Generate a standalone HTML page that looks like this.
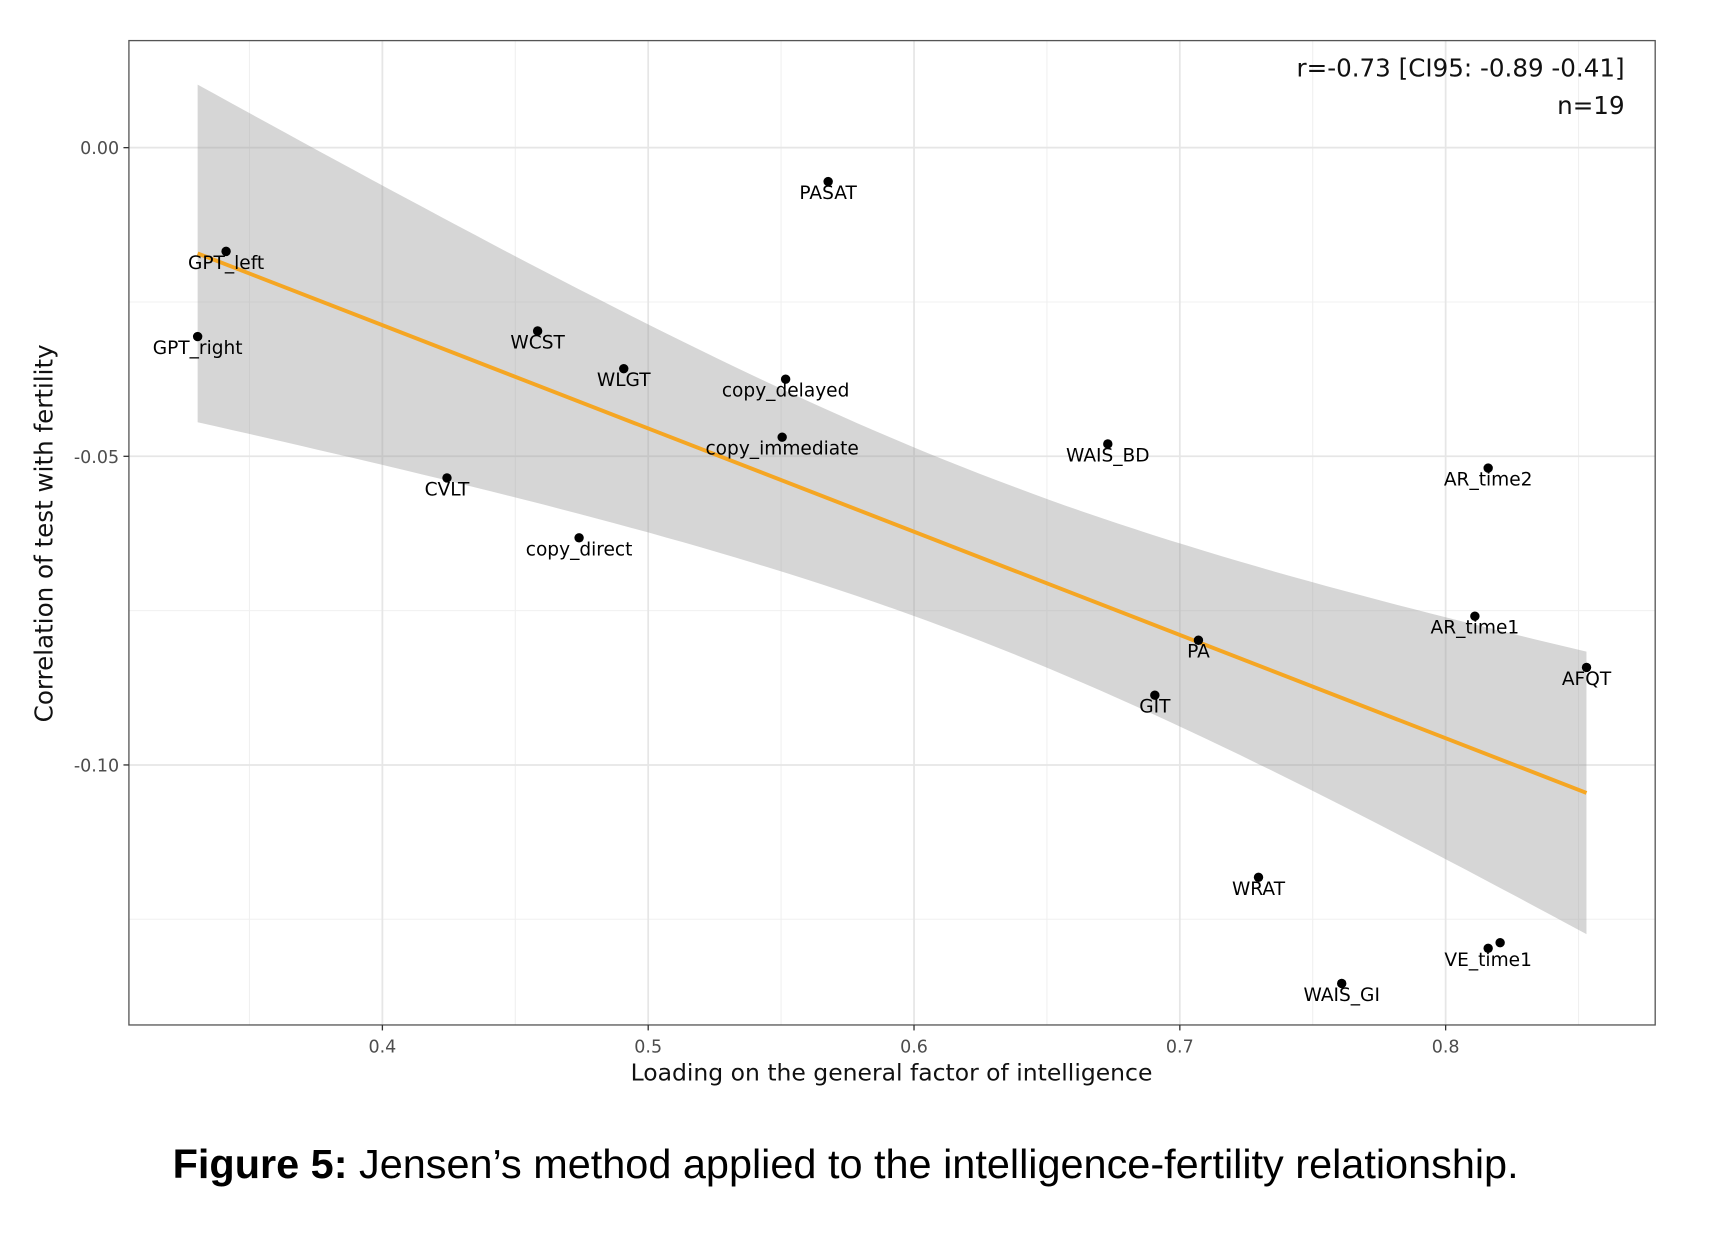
<!DOCTYPE html>
<html><head><meta charset="utf-8"><style>
html,body{margin:0;padding:0;background:#fff;}
svg{display:block;}
</style></head><body>
<svg id="chart" width="1712" height="1236" viewBox="0 0 1567 1131" xmlns="http://www.w3.org/2000/svg" font-family="'DejaVu Sans','Liberation Sans',sans-serif">
  <rect x="0" y="0" width="1567" height="1131" fill="#fff"/>
  <g id="grid"></g>
  <g id="band"></g>
  <g id="line"></g>
  <g id="points"></g>
  <g id="labels"></g>
  <rect x="118" y="37" width="1397" height="901" fill="none" stroke="#555" stroke-width="1.2"/>
  <g id="axes"></g>
  <text x="1487" y="70" text-anchor="end" font-size="22.5" fill="#111">r=-0.73 [CI95: -0.89 -0.41]</text>
  <text x="1487" y="104" text-anchor="end" font-size="22.5" fill="#111">n=19</text>
  <text x="816" y="989" text-anchor="middle" font-size="21.5" fill="#111">Loading on the general factor of intelligence</text>
  <text transform="translate(48,488) rotate(-90)" text-anchor="middle" font-size="22.5" fill="#111">Correlation of test with fertility</text>
  <text x="158" y="1078" font-family="'Liberation Sans',sans-serif" font-size="37" textLength="1232" lengthAdjust="spacingAndGlyphs" fill="#000"><tspan font-weight="bold">Figure 5:</tspan> Jensen’s method applied to the intelligence-fertility relationship.</text>
</svg>
<script>
const names = ["GPT_left","GPT_right","WCST","WLGT","copy_delayed","copy_immediate","PASAT","CVLT","copy_direct","WAIS_BD","AR_time2","AR_time1","PA","AFQT","GIT","WRAT","VE_time1","","WAIS_GI"];
const loadings = [0.3412,0.3305,0.4584,0.4908,0.5517,0.5504,0.5677,0.4243,0.474,0.6729,0.816,0.811,0.707,0.853,0.6906,0.7296,0.816,0.8205,0.7609];
const fertCorr = [-0.0168,-0.0306,-0.0297,-0.0358,-0.0375,-0.0469,-0.0055,-0.0535,-0.0632,-0.048,-0.0519,-0.0759,-0.0798,-0.0842,-0.0887,-0.1182,-0.1297,-0.1288,-0.1354];
const xTicks = [0.4,0.5,0.6,0.7,0.8];
const xTickLabels = ["0.4","0.5","0.6","0.7","0.8"];
const yTicks = [0,-0.05,-0.10];
const yTickLabels = ["0.00","-0.05","-0.10"];
const xMinor = [0.35,0.45,0.55,0.65,0.75,0.85];
const yMinor = [-0.025,-0.075,-0.125];

const NS="http://www.w3.org/2000/svg";
const X0=118,X1=1515,Y0=37,Y1=938;
function sx(v){return 350+(v-0.4)*2433;}
function sy(v){return 135-v*5650;}
function mk(tag,attrs,parent){const e=document.createElementNS(NS,tag);for(const k in attrs)e.setAttribute(k,attrs[k]);parent.appendChild(e);return e;}

const grid=document.getElementById('grid');
xMinor.forEach(v=>{const l=mk('line',{x1:sx(v),x2:sx(v),y1:Y0,y2:Y1,stroke:'#f0f0f0','stroke-width':1},grid);

});
yMinor.forEach(v=>{const l=mk('line',{x1:X0,x2:X1,y1:sy(v),y2:sy(v),stroke:'#f0f0f0','stroke-width':1},grid);

});
xTicks.forEach(v=>{const l=mk('line',{x1:sx(v),x2:sx(v),y1:Y0,y2:Y1,stroke:'#e6e6e6','stroke-width':1.6},grid);

});
yTicks.forEach(v=>{const l=mk('line',{x1:X0,x2:X1,y1:sy(v),y2:sy(v),stroke:'#e6e6e6','stroke-width':1.6},grid);

});

const axes=document.getElementById('axes');
xTicks.forEach((v,i)=>{
 const t=mk('line',{x1:sx(v),x2:sx(v),y1:Y1,y2:Y1+5,stroke:'#333','stroke-width':1.2},axes);
 
 
 const tx=mk('text',{x:sx(v),y:Y1+25,'text-anchor':'middle','font-size':16,fill:'#4d4d4d'},axes);
 tx.textContent=xTickLabels[i];
 
 
});
yTicks.forEach((v,i)=>{
 const t=mk('line',{x1:X0-5,x2:X0,y1:sy(v),y2:sy(v),stroke:'#333','stroke-width':1.2},axes);
 
 
 const tx=mk('text',{x:X0-9,y:sy(v)+6,'text-anchor':'end','font-size':16,fill:'#4d4d4d'},axes);
 tx.textContent=yTickLabels[i];
 
 
});

const n=loadings.length;
const mx=loadings.reduce((a,b)=>a+b,0)/n, my=fertCorr.reduce((a,b)=>a+b,0)/n;
let sxx=0,sxy=0;for(let i=0;i<n;i++){sxx+=(loadings[i]-mx)**2;sxy+=(loadings[i]-mx)*(fertCorr[i]-my);}
const b=sxy/sxx,a=my-b*mx;
let sse=0;for(let i=0;i<n;i++){sse+=(fertCorr[i]-a-b*loadings[i])**2;}
const s=Math.sqrt(sse/(n-2)), tq=2.11;
const xmin=Math.min(...loadings), xmax=Math.max(...loadings);
const up=[],lo=[];
for(let k=0;k<=80;k++){const xv=xmin+(xmax-xmin)*k/80;const f=a+b*xv;const se=s*Math.sqrt(1/n+(xv-mx)**2/sxx);
 up.push(sx(xv).toFixed(1)+','+sy(f+tq*se).toFixed(1));lo.unshift(sx(xv).toFixed(1)+','+sy(f-tq*se).toFixed(1));}
const band=mk('polygon',{points:up.concat(lo).join(' '),fill:'#999',opacity:0.4},document.getElementById('band'));


const ln=mk('line',{x1:sx(xmin),y1:sy(a+b*xmin),x2:sx(xmax),y2:sy(a+b*xmax),stroke:'#f5a623','stroke-width':3.6},document.getElementById('line'));



const pts=document.getElementById('points'),lbs=document.getElementById('labels');
for(let i=0;i<n;i++){
 const c=mk('circle',{cx:sx(loadings[i]),cy:sy(fertCorr[i]),r:4.3,fill:'#000'},pts);
 
 
 if(names[i]){
  const t=mk('text',{x:sx(loadings[i]),y:sy(fertCorr[i])+16,'text-anchor':'middle','font-size':17,fill:'#000'},lbs);
  t.textContent=names[i];
  
  
 }
}
</script>
</body></html>
